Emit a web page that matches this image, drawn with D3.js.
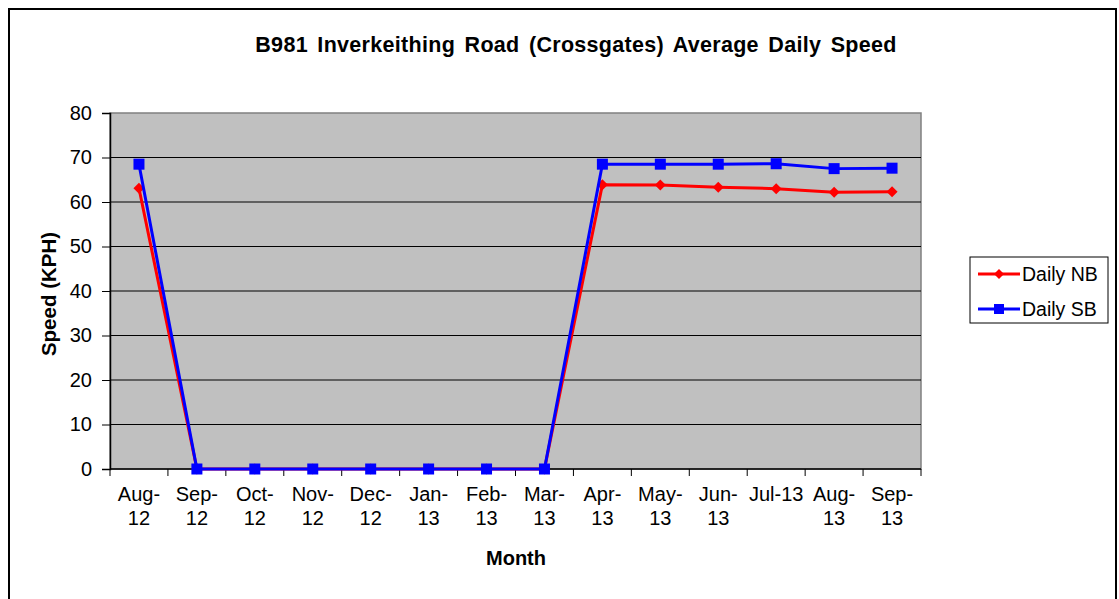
<!DOCTYPE html>
<html>
<head>
<meta charset="utf-8">
<script src="https://cdn.jsdelivr.net/npm/d3@7"></script>
<style>
  html, body { margin: 0; padding: 0; background: #fff; }
  svg { display: block; font-family: "Liberation Sans", Arial, sans-serif; }
</style>
</head>
<body>
<svg id="chart" width="1119" height="599"></svg>
<script>
// Monthly categories (label lines separated by \n)
const months = ["Aug-\n12", "Sep-\n12", "Oct-\n12", "Nov-\n12", "Dec-\n12", "Jan-\n13", "Feb-\n13",
                "Mar-\n13", "Apr-\n13", "May-\n13", "Jun-\n13", "Jul-13", "Aug-\n13", "Sep-\n13"];
// Average daily speed, northbound and southbound (KPH)
const dailyNB = [63.1, 0, 0, 0, 0, 0, 0, 0, 63.9, 63.8, 63.3, 63.0, 62.2, 62.3];
const dailySB = [68.5, 0, 0, 0, 0, 0, 0, 0, 68.5, 68.5, 68.5, 68.6, 67.5, 67.6];
const yTicks = [0, 10, 20, 30, 40, 50, 60, 70, 80];

const FONT = "Liberation Sans, Arial, sans-serif";
const svg = d3.select("#chart");
const plot = { left: 110, top: 113, right: 921, bottom: 469 };

// Outer frame
svg.append("rect")
  .attr("x", 9).attr("y", 9).attr("width", 1107).attr("height", 600)
  .attr("fill", "#fff").attr("stroke", "#000").attr("stroke-width", 2);

const x = d3.scaleBand().domain(d3.range(months.length)).range([plot.left, plot.right]);
const y = d3.scaleLinear().domain([0, 80]).range([plot.bottom, plot.top]);

// Plot area background
svg.append("rect")
  .attr("x", plot.left).attr("y", plot.top)
  .attr("width", plot.right - plot.left).attr("height", plot.bottom - plot.top)
  .attr("fill", "#c0c0c0").attr("stroke", "#808080").attr("stroke-width", 1.5);

// Horizontal gridlines
svg.append("g").selectAll("line")
  .data(yTicks.filter(d => d > 0 && d < 80))
  .join("line")
  .attr("x1", plot.left).attr("x2", plot.right)
  .attr("y1", d => y(d)).attr("y2", d => y(d))
  .attr("stroke", "#000").attr("stroke-width", 1);

// Y axis
const yAxis = svg.append("g")
  .attr("transform", `translate(${plot.left},0)`)
  .call(d3.axisLeft(y).tickValues(yTicks).tickSize(8).tickPadding(10));
yAxis.select(".domain").attr("stroke", "#000").attr("stroke-width", 1.5);
yAxis.selectAll(".tick line").attr("stroke", "#000");
yAxis.selectAll("text").attr("font-size", 20).attr("fill", "#000").attr("font-family", FONT);

// X axis (ticks at category boundaries)
const xAxisG = svg.append("g").attr("transform", `translate(0,${plot.bottom})`);
xAxisG.append("line")
  .attr("x1", plot.left).attr("x2", plot.right)
  .attr("y1", 0).attr("y2", 0).attr("stroke", "#000").attr("stroke-width", 1.5);
const boundaries = d3.range(months.length + 1).map(i => plot.left + i * x.step());
xAxisG.selectAll("line.tk").data(boundaries).join("line")
  .attr("class", "tk")
  .attr("x1", d => d).attr("x2", d => d).attr("y1", 0).attr("y2", 7)
  .attr("stroke", "#000");
const xl = xAxisG.selectAll("text.lbl").data(months).join("text")
  .attr("class", "lbl")
  .attr("text-anchor", "middle")
  .attr("font-size", 20).attr("fill", "#000")
  .attr("transform", (d, i) => `translate(${x(i) + x.bandwidth() / 2},0)`);
xl.each(function(d) {
  const lines = d.split("\n");
  d3.select(this).selectAll("tspan").data(lines).join("tspan")
    .attr("x", 0).attr("y", (l, j) => 32 + j * 24).text(l => l);
});

// Series lines and markers
const line = d3.line().x((d, i) => x(i) + x.bandwidth() / 2).y(d => y(d));

function drawSeries(values, color, marker) {
  svg.append("path").datum(values)
    .attr("d", line).attr("fill", "none")
    .attr("stroke", color).attr("stroke-width", 3).attr("stroke-linejoin", "round");
  const g = svg.append("g");
  values.forEach((v, i) => {
    const cx = x(i) + x.bandwidth() / 2, cy = y(v);
    if (marker === "square") {
      g.append("rect").attr("x", cx - 5.5).attr("y", cy - 5.5)
        .attr("width", 11).attr("height", 11).attr("fill", color);
    } else {
      g.append("path").attr("d", `M${cx},${cy - 5.5}L${cx + 5.5},${cy}L${cx},${cy + 5.5}L${cx - 5.5},${cy}Z`)
        .attr("fill", color);
    }
  });
}
drawSeries(dailyNB, "#ff0000", "diamond");
drawSeries(dailySB, "#0000ff", "square");

// Title
svg.append("text")
  .attr("x", 576).attr("y", 52).attr("text-anchor", "middle")
  .attr("font-size", 21.5).attr("font-weight", "bold")
  .attr("letter-spacing", 0.3).attr("word-spacing", 3.2)
  .text("B981 Inverkeithing Road (Crossgates) Average Daily Speed");

// Axis titles
svg.append("text")
  .attr("transform", `translate(56,294) rotate(-90)`)
  .attr("text-anchor", "middle").attr("font-size", 20.5).attr("font-weight", "bold")
  .text("Speed (KPH)");
svg.append("text")
  .attr("x", 516).attr("y", 565).attr("text-anchor", "middle")
  .attr("font-size", 20).attr("font-weight", "bold")
  .text("Month");

// Legend
const legend = svg.append("g");
legend.append("rect")
  .attr("x", 970).attr("y", 257).attr("width", 138).attr("height", 66)
  .attr("fill", "#fff").attr("stroke", "#000").attr("stroke-width", 1);
const legendItems = [
  { name: "Daily NB", color: "#ff0000", marker: "diamond", y: 274 },
  { name: "Daily SB", color: "#0000ff", marker: "square", y: 309 }
];
legendItems.forEach(it => {
  legend.append("line").attr("x1", 978).attr("x2", 1020).attr("y1", it.y).attr("y2", it.y)
    .attr("stroke", it.color).attr("stroke-width", 3);
  const cx = 999;
  if (it.marker === "square") {
    legend.append("rect").attr("x", cx - 5).attr("y", it.y - 5).attr("width", 10).attr("height", 10).attr("fill", it.color);
  } else {
    legend.append("path").attr("d", `M${cx},${it.y - 5}L${cx + 5},${it.y}L${cx},${it.y + 5}L${cx - 5},${it.y}Z`).attr("fill", it.color);
  }
  legend.append("text").attr("x", 1022).attr("y", it.y + 7).attr("font-size", 19.5).text(it.name);
});
</script>
</body>
</html>
